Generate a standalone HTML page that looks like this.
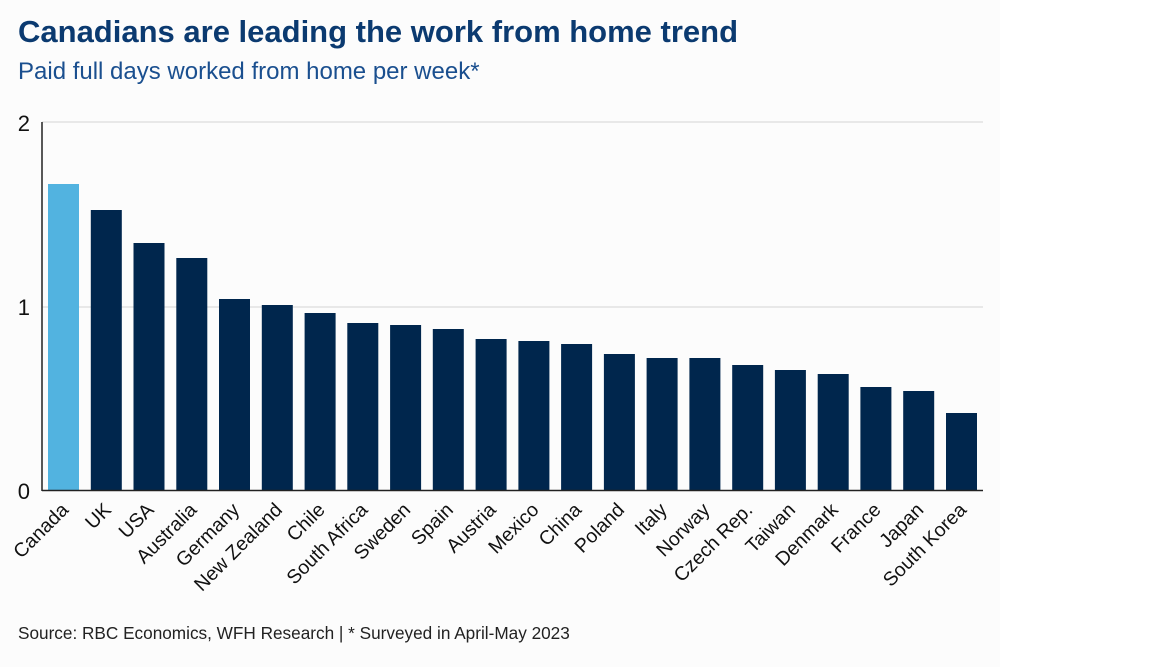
<!DOCTYPE html>
<html><head><meta charset="utf-8"><style>
body{margin:0;background:#fff;}
</style></head><body>
<svg width="1152" height="667" xmlns="http://www.w3.org/2000/svg" font-family="Liberation Sans, Arial, sans-serif">
<rect x="0" y="0" width="1000" height="667" fill="#fcfcfc"/>
<text x="18" y="42" font-size="31" font-weight="bold" fill="#0b3a70">Canadians are leading the work from home trend</text>
<text x="18" y="79" font-size="24" fill="#1a4f8f">Paid full days worked from home per week*</text>
<line x1="42" y1="122" x2="983" y2="122" stroke="#e2e2e2" stroke-width="1.5"/>
<line x1="42" y1="307" x2="983" y2="307" stroke="#e2e2e2" stroke-width="1.5"/>
<text x="30" y="131" font-size="22" text-anchor="end" fill="#111">2</text>
<text x="30" y="315" font-size="22" text-anchor="end" fill="#111">1</text>
<text x="30" y="499" font-size="22" text-anchor="end" fill="#111">0</text>
<g fill="#00264d">
<rect x="48.0" y="184" width="31" height="306" fill="#52b3e0"/>
<rect x="90.8" y="210" width="31" height="280"/>
<rect x="133.5" y="243" width="31" height="247"/>
<rect x="176.3" y="258" width="31" height="232"/>
<rect x="219.0" y="299" width="31" height="191"/>
<rect x="261.8" y="305" width="31" height="185"/>
<rect x="304.6" y="313" width="31" height="177"/>
<rect x="347.3" y="323" width="31" height="167"/>
<rect x="390.1" y="325" width="31" height="165"/>
<rect x="432.8" y="329" width="31" height="161"/>
<rect x="475.6" y="339" width="31" height="151"/>
<rect x="518.4" y="341" width="31" height="149"/>
<rect x="561.1" y="344" width="31" height="146"/>
<rect x="603.9" y="354" width="31" height="136"/>
<rect x="646.6" y="358" width="31" height="132"/>
<rect x="689.4" y="358" width="31" height="132"/>
<rect x="732.2" y="365" width="31" height="125"/>
<rect x="774.9" y="370" width="31" height="120"/>
<rect x="817.7" y="374" width="31" height="116"/>
<rect x="860.4" y="387" width="31" height="103"/>
<rect x="903.2" y="391" width="31" height="99"/>
<rect x="946.0" y="413" width="31" height="77"/>
</g>
<line x1="42" y1="122" x2="42" y2="491" stroke="#222" stroke-width="1.5"/>
<line x1="42" y1="490.5" x2="983" y2="490.5" stroke="#222" stroke-width="1.5"/>
<g font-size="19.5" fill="#111" text-anchor="end">
<text x="69.5" y="511" transform="rotate(-45 69.5 511)">Canada</text>
<text x="112.3" y="511" transform="rotate(-45 112.3 511)">UK</text>
<text x="155" y="511" transform="rotate(-45 155 511)">USA</text>
<text x="197.8" y="511" transform="rotate(-45 197.8 511)">Australia</text>
<text x="240.5" y="511" transform="rotate(-45 240.5 511)">Germany</text>
<text x="283.3" y="511" transform="rotate(-45 283.3 511)">New Zealand</text>
<text x="326.1" y="511" transform="rotate(-45 326.1 511)">Chile</text>
<text x="368.8" y="511" transform="rotate(-45 368.8 511)">South Africa</text>
<text x="411.6" y="511" transform="rotate(-45 411.6 511)">Sweden</text>
<text x="454.3" y="511" transform="rotate(-45 454.3 511)">Spain</text>
<text x="497.1" y="511" transform="rotate(-45 497.1 511)">Austria</text>
<text x="539.9" y="511" transform="rotate(-45 539.9 511)">Mexico</text>
<text x="582.6" y="511" transform="rotate(-45 582.6 511)">China</text>
<text x="625.4" y="511" transform="rotate(-45 625.4 511)">Poland</text>
<text x="668.1" y="511" transform="rotate(-45 668.1 511)">Italy</text>
<text x="710.9" y="511" transform="rotate(-45 710.9 511)">Norway</text>
<text x="753.7" y="511" transform="rotate(-45 753.7 511)">Czech Rep.</text>
<text x="796.4" y="511" transform="rotate(-45 796.4 511)">Taiwan</text>
<text x="839.2" y="511" transform="rotate(-45 839.2 511)">Denmark</text>
<text x="881.9" y="511" transform="rotate(-45 881.9 511)">France</text>
<text x="924.7" y="511" transform="rotate(-45 924.7 511)">Japan</text>
<text x="967.5" y="511" transform="rotate(-45 967.5 511)">South Korea</text>
</g>
<text x="18" y="639" font-size="17.2" fill="#222">Source: RBC Economics, WFH Research | * Surveyed in April-May 2023</text>
</svg>
</body></html>
